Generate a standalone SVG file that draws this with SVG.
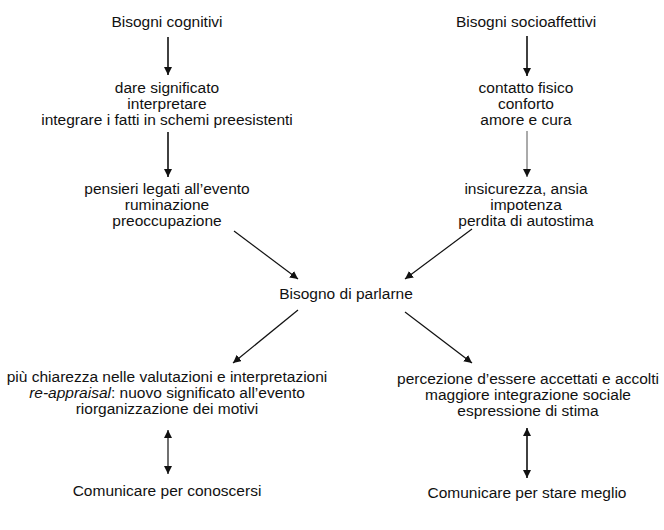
<svg xmlns="http://www.w3.org/2000/svg" width="664" height="530" viewBox="0 0 664 530">
<style>
text{font-family:"Liberation Sans",Arial,sans-serif;font-size:15.5px;fill:#111;text-anchor:middle}
.ln{stroke:#111;stroke-width:1.2;fill:none}
.thick{stroke-width:1.6}
.thin{stroke-width:0.9;stroke:#444}
</style>
<defs>
<marker id="ah" viewBox="0 0 10 10" refX="10" refY="5" markerWidth="8" markerHeight="8" markerUnits="userSpaceOnUse" orient="auto-start-reverse"><path d="M0,0 L10,5 L0,10 Z" fill="#111"/></marker>
</defs>
<rect width="664" height="530" fill="#fff"/>
<g id="connectors">
<line class="ln thick" x1="168" y1="37" x2="168" y2="75" marker-end="url(#ah)"/>
<line class="ln thick" x1="168" y1="132" x2="168" y2="177" marker-end="url(#ah)"/>
<line class="ln thick" x1="527" y1="36" x2="527" y2="76" marker-end="url(#ah)"/>
<line class="ln thin" x1="527" y1="131" x2="527" y2="177" marker-end="url(#ah)"/>
<line class="ln" x1="234" y1="231" x2="298" y2="279" marker-end="url(#ah)"/>
<line class="ln" x1="472" y1="229" x2="405" y2="279" marker-end="url(#ah)"/>
<line class="ln" x1="298" y1="310" x2="233" y2="363" marker-end="url(#ah)"/>
<line class="ln" x1="405" y1="312" x2="472" y2="363" marker-end="url(#ah)"/>
<line class="ln" x1="168" y1="430" x2="168" y2="474" marker-start="url(#ah)" marker-end="url(#ah)"/>
<line class="ln thick" x1="527" y1="428" x2="527" y2="478" marker-start="url(#ah)" marker-end="url(#ah)"/>
</g>
<g id="bisogni-cognitivi"><text x="167" y="27">Bisogni cognitivi</text></g>
<g id="cognitivi-1">
<text x="167" y="93">dare significato</text>
<text x="167" y="109">interpretare</text>
<text x="167" y="125">integrare i fatti in schemi preesistenti</text>
</g>
<g id="cognitivi-2">
<text x="167" y="194">pensieri legati all’evento</text>
<text x="167" y="210">ruminazione</text>
<text x="167" y="226">preoccupazione</text>
</g>
<g id="bisogni-socioaffettivi"><text x="526" y="27">Bisogni socioaffettivi</text></g>
<g id="socio-1">
<text x="526" y="93">contatto fisico</text>
<text x="526" y="109">conforto</text>
<text x="526" y="125">amore e cura</text>
</g>
<g id="socio-2">
<text x="526" y="194">insicurezza, ansia</text>
<text x="526" y="210">impotenza</text>
<text x="526" y="226">perdita di autostima</text>
</g>
<g id="bisogno-parlarne"><text x="346" y="299">Bisogno di parlarne</text></g>
<g id="esito-cognitivo">
<text x="167" y="382">più chiarezza nelle valutazioni e interpretazioni</text>
<text x="167" y="398"><tspan font-style="italic">re-appraisal</tspan>: nuovo significato all’evento</text>
<text x="167" y="414">riorganizzazione dei motivi</text>
</g>
<g id="esito-socio">
<text x="528" y="384">percezione d’essere accettati e accolti</text>
<text x="528" y="400">maggiore integrazione sociale</text>
<text x="528" y="416">espressione di stima</text>
</g>
<g id="conoscersi"><text x="167" y="496">Comunicare per conoscersi</text></g>
<g id="stare-meglio"><text x="527" y="498">Comunicare per stare meglio</text></g>
</svg>
